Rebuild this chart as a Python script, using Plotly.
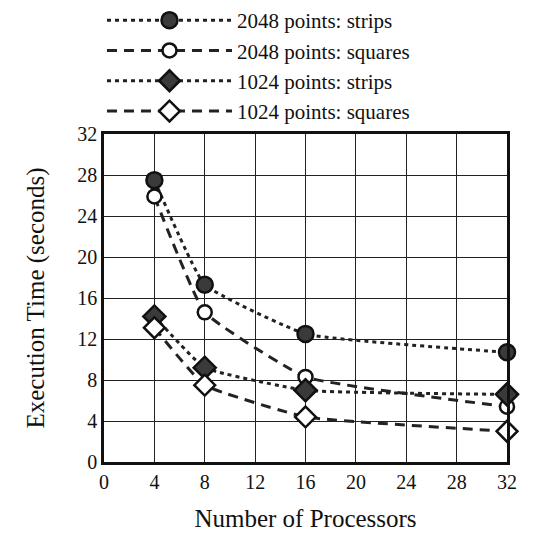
import plotly.graph_objects as go

processors = [4, 8, 16, 32]
strips_2048 = [27.5, 17.3, 12.5, 10.7]
squares_2048 = [25.9, 14.6, 8.3, 5.4]
strips_1024 = [14.2, 9.2, 7.0, 6.6]
squares_1024 = [13.1, 7.5, 4.4, 3.0]

x_ticks = [0, 4, 8, 12, 16, 20, 24, 28, 32]
y_ticks = [0, 4, 8, 12, 16, 20, 24, 28, 32]

FONT = "'Liberation Serif', 'Times New Roman', Times, serif"
DARK = "#3a3a3a"

series = [
    ("2048 points: strips", strips_2048, "4px,4px", "circle", DARK, 16),
    ("2048 points: squares", squares_2048, "10px,7px", "circle", "white", 14),
    ("1024 points: strips", strips_1024, "4px,4px", "diamond", DARK, 17),
    ("1024 points: squares", squares_1024, "10px,7px", "diamond", "white", 16),
]

fig = go.Figure()
for name, vals, dash, sym, fill, size in series:
    fig.add_trace(go.Scatter(
        x=processors, y=vals, name=name, mode="lines+markers",
        line=dict(color="#222", width=3, dash=dash, shape="spline", smoothing=0.35),
        marker=dict(symbol=sym, size=size, color=fill,
                    line=dict(color="#111", width=2.5)),
        cliponaxis=False,
    ))

fig.update_layout(
    width=548, height=539,
    margin=dict(l=104, r=41, t=134, b=77, autoexpand=False),
    paper_bgcolor="white", plot_bgcolor="white",
    font=dict(family=FONT, color="#111", size=20),
    showlegend=True,
    legend=dict(x=-0.005, y=1.008, xanchor="left", yanchor="top", yref="container",
                font=dict(family=FONT, size=21, color="#111"),
                itemwidth=125, tracegroupgap=0,
                bgcolor="rgba(0,0,0,0)"),
    xaxis=dict(range=[0, 32], tickvals=x_ticks, showgrid=True,
               gridcolor="#222", gridwidth=1.2, zeroline=False,
               showline=True, linecolor="#111", linewidth=2.5, mirror=True,
               ticks="", tickfont=dict(size=20),
               title=dict(text="Number of Processors", font=dict(size=25), standoff=18)),
    yaxis=dict(range=[0, 32], tickvals=y_ticks, showgrid=True,
               gridcolor="#222", gridwidth=1.2, zeroline=False,
               showline=True, linecolor="#111", linewidth=2.5, mirror=True,
               ticks="", tickfont=dict(size=20),
               title=dict(text="Execution Time (seconds)", font=dict(size=25), standoff=26)),
)

fig.write_html("out.html")
